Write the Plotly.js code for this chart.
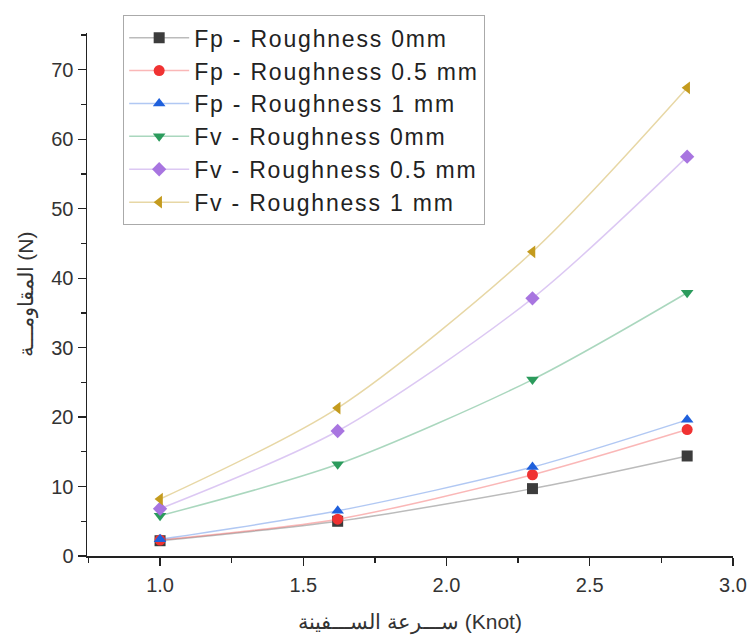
<!DOCTYPE html>
<html>
<head>
<meta charset="utf-8">
<script src="https://cdn.plot.ly/plotly-3.0.1.min.js"></script>
<style>
html,body{margin:0;padding:0;background:#fff;}
#chart{width:750px;height:637px;}
.legendtext{letter-spacing:1.8px;}
</style>
</head>
<body>
<div id="chart"></div>
<script>
const speed = [1.0, 1.62, 2.3, 2.84];
const seriesNames = [
  "Fp - Roughness 0mm",
  "Fp - Roughness 0.5 mm",
  "Fp - Roughness 1 mm",
  "Fv - Roughness 0mm",
  "Fv - Roughness 0.5 mm",
  "Fv - Roughness 1 mm"
];
const fp0 = [2.2, 5.0, 9.7, 14.4];
const fp05 = [2.3, 5.3, 11.7, 18.2];
const fp1 = [2.4, 6.5, 12.8, 19.6];
const fv0 = [5.8, 13.2, 25.4, 37.9];
const fv05 = [6.8, 18.0, 37.1, 57.5];
const fv1 = [8.2, 21.3, 43.8, 67.4];
const seriesValues = [fp0, fp05, fp1, fv0, fv05, fv1];
const markerColors = ["#3c3c3c", "#f03232", "#1f60dc", "#2b9b5c", "#a875e0", "#c49b1e"];
const lineColors = ["rgba(60,60,60,0.35)", "rgba(240,50,50,0.35)", "rgba(31,96,220,0.35)", "rgba(43,155,92,0.4)", "rgba(168,117,224,0.4)", "rgba(196,155,30,0.4)"];
const symbols = ["square", "circle", "triangle-up", "triangle-down", "diamond", "triangle-left"];
const xTitle = "ســـرعة الســـفينة (Knot)";
const yTitle = "المقاومـــة (N)";

const traces = seriesNames.map((name, i) => ({
  type: "scatter",
  mode: "lines+markers",
  name: name,
  x: speed,
  y: seriesValues[i],
  line: {color: lineColors[i], width: 1.5, shape: "spline", smoothing: 0.8},
  marker: {color: markerColors[i], symbol: symbols[i], size: 11, line: {width: 0}}
}));

const layout = {
  width: 750, height: 637,
  margin: {l: 87, r: 17, t: 33, b: 81},
  paper_bgcolor: "#fff", plot_bgcolor: "#fff",
  font: {family: "Liberation Sans, Arial, sans-serif", color: "#333"},
  showlegend: true,
  legend: {
    x: 0.056, y: 1.034, xanchor: "left", yanchor: "top",
    bordercolor: "#aaa", borderwidth: 1, bgcolor: "#fff",
    font: {size: 23, color: "#222"},
    itemwidth: 60, tracegroupgap: 0
  },
  xaxis: {
    range: [0.745, 3.0], dtick: 0.5, tick0: 0, tickformat: ".1f",
    ticks: "outside", ticklen: 8, tickwidth: 1.3, tickcolor: "#222",
    minor: {dtick: 0.25, ticks: "outside", ticklen: 5, tickwidth: 1.3, tickcolor: "#222"},
    showline: true, linecolor: "#222", linewidth: 1.5,
    showgrid: false, zeroline: false,
    ticklabelstandoff: 2,
    tickfont: {size: 20, color: "#333"},
    title: {text: xTitle, font: {size: 21, color: "#333"}, standoff: 20}
  },
  yaxis: {
    range: [0, 75.3], dtick: 10, tick0: 0,
    ticks: "outside", ticklen: 8, tickwidth: 1.3, tickcolor: "#222",
    minor: {dtick: 5, ticks: "outside", ticklen: 5, tickwidth: 1.3, tickcolor: "#222"},
    showline: true, linecolor: "#222", linewidth: 1.5,
    showgrid: false, zeroline: false,
    tickfont: {size: 20, color: "#333"},
    title: {text: yTitle, font: {size: 21, color: "#333"}, standoff: 12}
  }
};

Plotly.newPlot("chart", traces, layout, {displayModeBar: false, staticPlot: true});
</script>
</body>
</html>
